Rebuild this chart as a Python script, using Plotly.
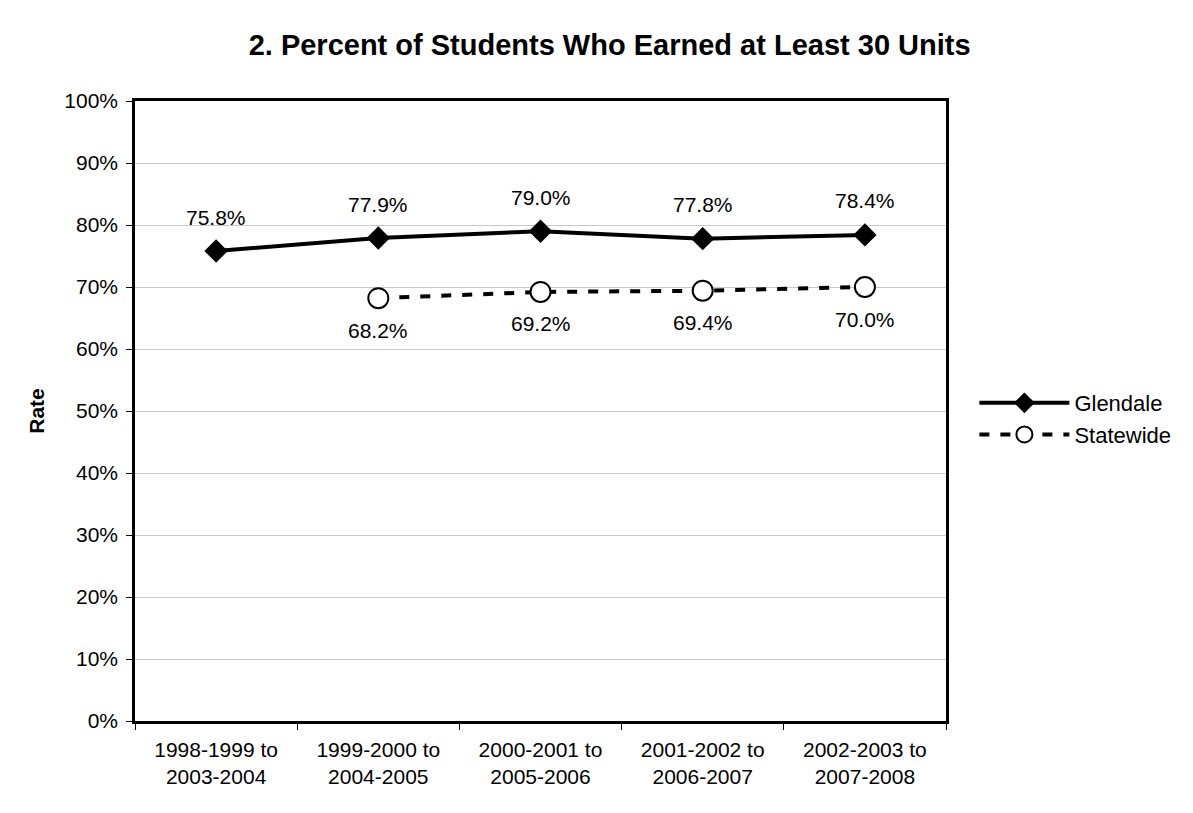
import plotly.graph_objects as go

categories = ["1998-1999 to<br>2003-2004", "1999-2000 to<br>2004-2005", "2000-2001 to<br>2005-2006",
              "2001-2002 to<br>2006-2007", "2002-2003 to<br>2007-2008"]
glendale = [75.8, 77.9, 79.0, 77.8, 78.4]
statewide = [None, 68.2, 69.2, 69.4, 70.0]
y_ticks = [0, 10, 20, 30, 40, 50, 60, 70, 80, 90, 100]
y_tick_labels = [f"{v}%" for v in y_ticks]

FONT = "Liberation Sans, Arial, sans-serif"

fig = go.Figure()
fig.add_trace(go.Scatter(
    x=categories, y=glendale, name="Glendale", mode="lines+markers",
    line=dict(color="black", width=4),
    marker=dict(symbol="diamond", size=18, color="black"),
))
fig.add_trace(go.Scatter(
    x=categories, y=statewide, name="Statewide", mode="lines+markers",
    line=dict(color="black", width=4, dash="10px,11px"),
    marker=dict(symbol="circle", size=20, color="white", line=dict(color="black", width=2)),
))

for c, v in zip(categories, glendale):
    fig.add_annotation(x=c, y=v, text=f"{v:.1f}%", showarrow=False, yshift=34,
                       font=dict(size=21, color="black", family=FONT))
for c, v in zip(categories, statewide):
    if v is not None:
        fig.add_annotation(x=c, y=v, text=f"{v:.1f}%", showarrow=False, yshift=-32,
                           font=dict(size=21, color="black", family=FONT))

fig.update_layout(
    width=1193, height=813,
    paper_bgcolor="white", plot_bgcolor="white",
    margin=dict(l=135, r=247, t=101, b=92),
    font=dict(family=FONT, size=21, color="black"),
    title=dict(text="<b>2. Percent of Students Who Earned at Least 30 Units</b>",
               x=0.511, xanchor="center", y=0.945, yanchor="middle",
               font=dict(size=29, family=FONT)),
    showlegend=True,
    legend=dict(x=1.035, y=0.487, xanchor="left", yanchor="middle",
                font=dict(size=22, family=FONT), itemwidth=90),
)
fig.update_xaxes(
    type="category", showline=True, linecolor="black", linewidth=2.5, mirror=True,
    ticks="outside", tickson="boundaries", ticklen=6, tickcolor="black",
    showgrid=False, tickfont=dict(size=21), range=[-0.5, 4.5], ticklabelstandoff=8,
)
fig.update_yaxes(
    range=[0, 100], tickvals=y_ticks, ticktext=y_tick_labels,
    showline=True, linecolor="black", linewidth=2.5, mirror=True,
    ticks="outside", ticklen=6, tickcolor="black",
    showgrid=True, gridcolor="#c8c8c8", gridwidth=1,
    tickfont=dict(size=21), zeroline=False, ticklabelstandoff=4,
    title=dict(text="<b>Rate</b>", font=dict(size=21), standoff=14),
)

fig.write_html("out.html", post_script="document.body.style.margin='0';",
               config={"displayModeBar": False})
